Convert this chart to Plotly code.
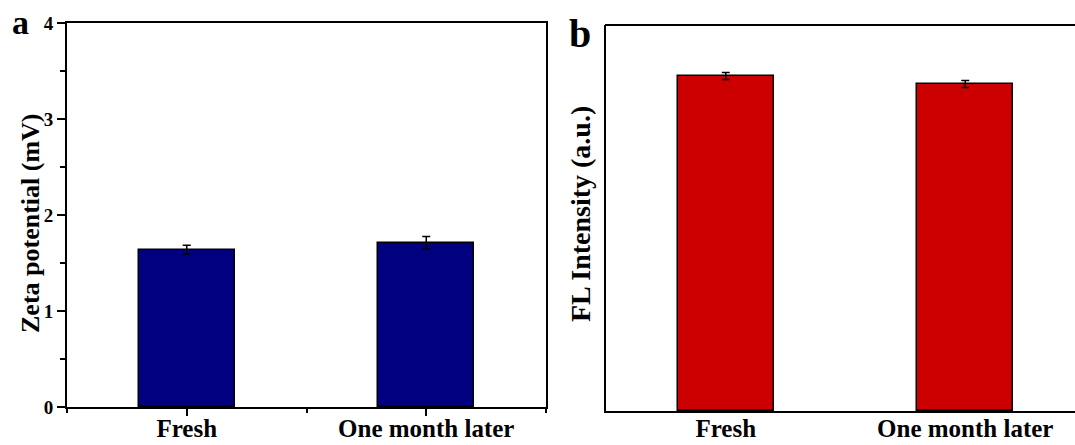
import plotly.graph_objects as go

# Sample categories
categories = ["Fresh", "One month later"]

# Panel a: zeta potential (mV) with standard deviations
zeta_values = [1.64, 1.71]
zeta_errors = [0.045, 0.065]

# Panel b: fluorescence intensity (a.u.) with standard deviations
fl_values = [86.8, 84.7]
fl_errors = [0.9, 0.9]

W, H = 1075, 445
FONT = "Liberation Serif"

fig = go.Figure()

fig.add_trace(go.Bar(
    x=[0, 1], y=zeta_values, width=0.4,
    marker=dict(color="#000080", line=dict(color="black", width=1.5)),
    error_y=dict(type="data", array=zeta_errors, color="black", thickness=1.5, width=4),
    xaxis="x", yaxis="y", showlegend=False,
))
fig.add_trace(go.Bar(
    x=[0, 1], y=fl_values, width=0.4,
    marker=dict(color="#CC0000", line=dict(color="black", width=1.5)),
    error_y=dict(type="data", array=fl_errors, color="black", thickness=1.5, width=4),
    xaxis="x2", yaxis="y2", showlegend=False,
))


def px_x(v):
    return v / W


def px_y(v):
    return 1 - v / H


tick_font = dict(family=FONT, size=19, color="black", weight="bold")
cat_font = dict(family=FONT, size=25, color="black", weight="bold")

fig.update_layout(
    width=W, height=H,
    margin=dict(l=0, r=0, t=0, b=0),
    paper_bgcolor="white", plot_bgcolor="white",
    bargap=0,
    xaxis=dict(
        domain=[px_x(67), px_x(546)], range=[-0.5, 1.5],
        tickmode="array", tickvals=[0, 1], ticktext=categories,
        ticks="outside", ticklen=7, tickwidth=2, tickcolor="black",
        minor=dict(tickmode="array", tickvals=[-0.5, 0.5, 1.5], ticks="outside",
                   ticklen=4, tickwidth=2, tickcolor="black"),
        showline=True, linecolor="black", linewidth=2, mirror=True,
        showgrid=False, zeroline=False, tickfont=cat_font, automargin=False,
        ticklabelstandoff=-9,
    ),
    yaxis=dict(
        domain=[px_y(407), px_y(23)], range=[0, 4],
        tickmode="array", tickvals=[0, 1, 2, 3, 4],
        ticks="outside", ticklen=8, tickwidth=2, tickcolor="black",
        minor=dict(tickmode="array", tickvals=[0.5, 1.5, 2.5, 3.5], ticks="outside",
                   ticklen=5, tickwidth=2, tickcolor="black"),
        showline=True, linecolor="black", linewidth=2, mirror=True,
        showgrid=False, zeroline=False, tickfont=tick_font, automargin=False,
    ),
    xaxis2=dict(
        domain=[px_x(606), 1], range=[-0.5, -0.5 + 469 / 239.5],
        tickmode="array", tickvals=[0, 1], ticktext=categories,
        ticks="", showline=True, linecolor="black", linewidth=2,
        showgrid=False, zeroline=False, tickfont=cat_font, anchor="y2",
        automargin=False, ticklabelstandoff=-6,
    ),
    yaxis2=dict(
        domain=[px_y(411), px_y(25)], range=[0, 100],
        showticklabels=False, ticks="",
        showline=True, linecolor="black", linewidth=2,
        showgrid=False, zeroline=False, anchor="x2", automargin=False,
    ),
)

# top border of panel b
fig.add_shape(type="line", xref="paper", yref="paper",
              x0=px_x(605), x1=1, y0=px_y(25), y1=px_y(25),
              line=dict(color="black", width=2))

# axis titles
fig.add_annotation(text="Zeta potential (mV)", xref="paper", yref="paper",
                   x=px_x(30), y=px_y(223), textangle=-90, showarrow=False,
                   xanchor="center", yanchor="middle",
                   font=dict(family=FONT, size=26, color="black", weight="bold"))
fig.add_annotation(text="FL Intensity (a.u.)", xref="paper", yref="paper",
                   x=px_x(580), y=px_y(214), textangle=-90, showarrow=False,
                   xanchor="center", yanchor="middle",
                   font=dict(family=FONT, size=28, color="black", weight="bold"))

# panel letters
fig.add_annotation(text="a", xref="paper", yref="paper", x=px_x(10), y=px_y(2),
                   xanchor="left", yanchor="top", showarrow=False,
                   font=dict(family=FONT, size=34, color="black", weight="bold"))
fig.add_annotation(text="b", xref="paper", yref="paper", x=px_x(567), y=px_y(9),
                   xanchor="left", yanchor="top", showarrow=False,
                   font=dict(family=FONT, size=40, color="black", weight="bold"))

fig.write_html("out.html")
